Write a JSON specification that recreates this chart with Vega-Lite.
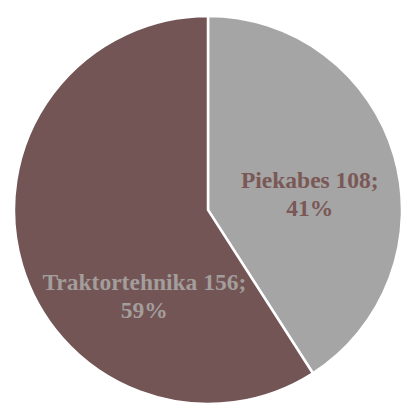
{
  "$schema": "https://vega.github.io/schema/vega-lite/v6.json",
  "width": 388,
  "height": 390,
  "autosize": {"type": "none"},
  "padding": {"left": 14, "top": 15, "right": 0, "bottom": 0},
  "background": "white",
  "view": {"stroke": null},
  "data": {"values": [
    {"category": "Piekabes", "value": 108, "pct": "41%"},
    {"category": "Traktortehnika", "value": 156, "pct": "59%"}
  ]},
  "layer": [
    {
      "mark": {"type": "arc", "outerRadius": 194, "stroke": "white", "strokeWidth": 2.5},
      "encoding": {
        "theta": {"field": "value", "type": "quantitative", "stack": true},
        "order": {"field": "category", "type": "nominal", "sort": "ascending"},
        "color": {"field": "category", "type": "nominal", "legend": null,
          "scale": {"domain": ["Piekabes", "Traktortehnika"], "range": ["#a5a5a5", "#725554"]}}
      }
    },
    {
      "transform": [
        {"stack": "value", "groupby": [], "sort": [{"field": "category", "order": "ascending"}], "as": ["v0", "v1"]},
        {"filter": "datum.category === 'Piekabes'"},
        {"calculate": "(datum.v0 + datum.v1) / 2", "as": "mid"},
        {"calculate": "[datum.category + ' ' + datum.value + ';', datum.pct]", "as": "label"}
      ],
      "mark": {"type": "text", "radius": 103, "dx": 3, "dy": 0, "font": "Liberation Serif", "fontWeight": "bold", "fontSize": 23.5, "lineHeight": 28, "color": "#7a5856", "align": "center", "baseline": "middle"},
      "encoding": {
        "theta": {"field": "mid", "type": "quantitative", "stack": null},
        "text": {"field": "label"}
      }
    },
    {
      "transform": [
        {"stack": "value", "groupby": [], "sort": [{"field": "category", "order": "ascending"}], "as": ["v0", "v1"]},
        {"filter": "datum.category === 'Traktortehnika'"},
        {"calculate": "(datum.v0 + datum.v1) / 2", "as": "mid"},
        {"calculate": "[datum.category + ' ' + datum.value + ';', datum.pct]", "as": "label"}
      ],
      "mark": {"type": "text", "radius": 108, "dx": 40, "dy": 43, "font": "Liberation Serif", "fontWeight": "bold", "fontSize": 23.5, "lineHeight": 28, "color": "#a39d9c", "align": "center", "baseline": "middle"},
      "encoding": {
        "theta": {"field": "mid", "type": "quantitative", "stack": null},
        "text": {"field": "label"}
      }
    }
  ]
}
